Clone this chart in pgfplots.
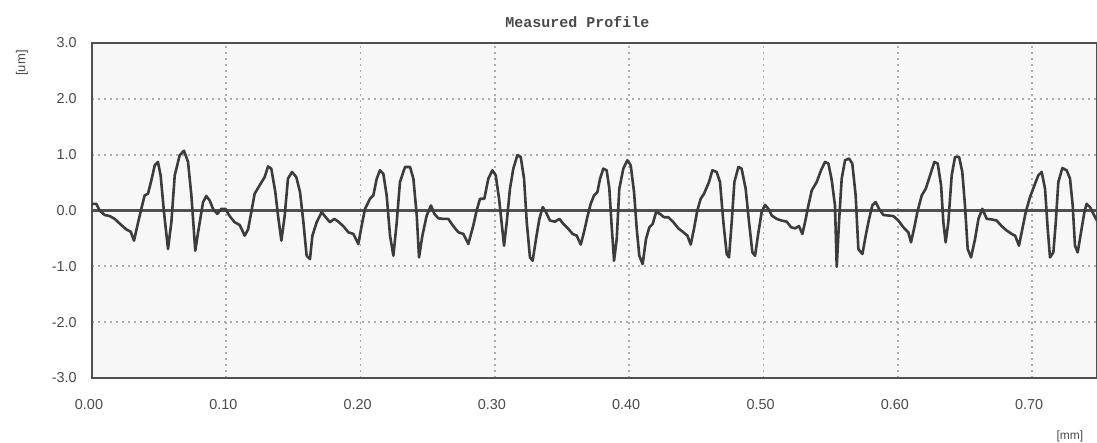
\documentclass[border=0pt]{standalone}
\usepackage{fontspec}
\setmainfont{Liberation Sans}
\newfontfamily\titlefont{Liberation Mono}
\usepackage{pgfplots}
\pgfplotsset{compat=1.18}
\definecolor{txt}{HTML}{4A4A4A}
\definecolor{curve}{HTML}{3C3C3C}
\definecolor{frame}{HTML}{505050}
\begin{document}
\begin{tikzpicture}
\path[use as bounding box] (-46pt,-32.5pt) rectangle (502.5pt,189pt);
\begin{axis}[
  at={(0,0)}, anchor=south west,
  scale only axis, width=502.5pt, height=167.5pt,
  xmin=0, xmax=0.7483, ymin=-3, ymax=3,
  xtick={0,0.1,0.2,0.3,0.4,0.5,0.6,0.7},
  ytick={-3,-2,-1,0,1,2,3},
  xticklabels={0.00,0.10,0.20,0.30,0.40,0.50,0.60,0.70},
  yticklabels={-3.0,-2.0,-1.0,0.0,1.0,2.0,3.0},
  major tick length=0pt,
  axis background/.style={fill=gray!6},
  axis line style={draw=frame, line width=0.9pt},
  grid=major,
  major grid style={draw=gray!65, line width=0.85pt, dash pattern=on 0.9pt off 2.1pt},
  extra y ticks={0},
  extra y tick labels={},
  extra y tick style={grid=major, major grid style={draw=frame, solid, line width=1.1pt}},
  ticklabel style={font=\fontsize{7.2}{8}\selectfont, text=txt, inner sep=0pt},
  xticklabel style={anchor=center, yshift=-13.5pt, xshift=-1.5pt},
  yticklabel style={anchor=east, xshift=-7.5pt},
  title={\titlefont\bfseries Measured Profile},
  title style={at={(rel axis cs:0.483,1)}, anchor=center, yshift=4.5pt, font=\fontsize{7.5}{8}\selectfont, text=txt},
  xlabel={[mm]},
  xlabel style={at={(rel axis cs:0.973,0)}, anchor=center, yshift=-29pt, font=\fontsize{6}{7}\selectfont, text=txt},
  ylabel={[um]},
  ylabel style={at={(rel axis cs:0,1)}, anchor=center, xshift=-10pt, yshift=35pt, font=\fontsize{6.5}{7}\selectfont, text=txt},
]
\addplot[color=curve, line width=1.3pt, line join=round] coordinates {
(0.0000,0.12)(0.0032,0.12)(0.0057,0.00)(0.0094,-0.08)(0.0132,-0.10)(0.0169,-0.15)
(0.0218,-0.26)(0.0256,-0.34)(0.0288,-0.38)(0.0313,-0.54)(0.0338,-0.27)(0.0367,0.03)
(0.0392,0.27)(0.0417,0.30)(0.0442,0.54)(0.0467,0.81)(0.0491,0.87)(0.0511,0.63)
(0.0536,-0.03)(0.0566,-0.69)(0.0591,-0.21)(0.0616,0.63)(0.0653,0.99)(0.0685,1.07)
(0.0715,0.87)(0.0740,0.27)(0.0769,-0.72)(0.0794,-0.33)(0.0827,0.15)(0.0851,0.26)
(0.0876,0.18)(0.0901,0.03)(0.0933,-0.06)(0.0963,0.03)(0.0993,0.03)(0.1025,-0.10)
(0.1062,-0.21)(0.1100,-0.26)(0.1137,-0.45)(0.1162,-0.34)(0.1186,-0.03)(0.1211,0.30)
(0.1248,0.45)(0.1286,0.60)(0.1311,0.79)(0.1335,0.75)(0.1365,0.33)(0.1385,-0.09)
(0.1410,-0.54)(0.1435,-0.09)(0.1459,0.57)(0.1489,0.69)(0.1521,0.60)
(0.1549,0.33)(0.1574,-0.21)(0.1598,-0.81)(0.1623,-0.87)(0.1641,-0.45)(0.1673,-0.21)
(0.1710,-0.03)(0.1740,-0.12)(0.1772,-0.21)(0.1804,-0.15)(0.1834,-0.20)(0.1871,-0.28)
(0.1909,-0.39)(0.1946,-0.42)(0.1983,-0.60)(0.2008,-0.27)(0.2033,0.03)(0.2070,0.21)
(0.2095,0.27)(0.2120,0.57)(0.2144,0.72)(0.2169,0.66)(0.2194,0.27)(0.2219,-0.45)
(0.2244,-0.81)(0.2269,-0.21)(0.2293,0.51)(0.2331,0.78)(0.2368,0.78)(0.2393,0.57)
(0.2418,-0.09)(0.2435,-0.84)(0.2460,-0.45)(0.2492,-0.09)(0.2524,0.09)(0.2549,-0.06)
(0.2579,-0.14)(0.2616,-0.15)(0.2653,-0.15)(0.2690,-0.28)(0.2728,-0.39)(0.2765,-0.42)
(0.2802,-0.60)(0.2839,-0.27)(0.2864,0.00)(0.2889,0.21)(0.2921,0.21)(0.2951,0.57)
(0.2981,0.72)(0.3006,0.63)(0.3031,0.21)
(0.3068,-0.63)(0.3088,-0.21)(0.3112,0.39)(0.3137,0.75)(0.3167,0.99)(0.3192,0.96)
(0.3217,0.57)(0.3237,-0.21)(0.3261,-0.84)(0.3281,-0.90)(0.3306,-0.51)(0.3331,-0.15)
(0.3356,0.06)(0.3380,-0.03)(0.3410,-0.18)(0.3447,-0.20)(0.3480,-0.15)(0.3510,-0.24)
(0.3547,-0.33)(0.3579,-0.42)(0.3609,-0.45)(0.3639,-0.61)(0.3663,-0.39)(0.3688,-0.12)
(0.3713,0.12)(0.3738,0.27)(0.3763,0.33)(0.3783,0.57)(0.3807,0.75)(0.3832,0.72)
(0.3852,0.39)(0.3869,-0.27)(0.3887,-0.90)(0.3907,-0.51)(0.3926,0.39)(0.3956,0.75)
(0.3986,0.90)(0.4011,0.81)(0.4036,0.33)(0.4056,-0.33)(0.4075,-0.81)(0.4100,-0.96)
(0.4125,-0.51)(0.4150,-0.30)(0.4175,-0.24)(0.4200,-0.03)(0.4229,-0.06)(0.4259,-0.12)
(0.4291,-0.12)(0.4329,-0.21)(0.4366,-0.32)(0.4403,-0.39)(0.4433,-0.45)(0.4458,-0.61)
(0.4482,-0.33)(0.4507,0.00)(0.4532,0.21)(0.4557,0.30)
(0.4594,0.51)(0.4619,0.72)(0.4651,0.69)(0.4676,0.51)(0.4701,-0.21)(0.4726,-0.78)
(0.4743,-0.84)(0.4763,-0.21)(0.4783,0.51)(0.4813,0.78)(0.4837,0.75)(0.4867,0.39)
(0.4892,-0.21)(0.4917,-0.75)(0.4937,-0.81)(0.4962,-0.39)(0.4986,-0.03)(0.5011,0.10)
(0.5036,0.03)(0.5061,-0.09)(0.5098,-0.15)(0.5135,-0.18)(0.5173,-0.20)(0.5205,-0.30)
(0.5235,-0.32)(0.5264,-0.28)(0.5289,-0.42)(0.5309,-0.21)(0.5334,0.09)(0.5359,0.36)
(0.5396,0.51)(0.5428,0.72)(0.5458,0.87)(0.5483,0.84)(0.5508,0.54)(0.5532,0.09)
(0.5545,-1.01)(0.5562,-0.21)(0.5582,0.57)(0.5607,0.90)(0.5637,0.93)(0.5661,0.84)
(0.5686,0.27)(0.5706,-0.69)(0.5736,-0.78)(0.5761,-0.45)(0.5786,-0.15)(0.5810,0.09)
(0.5835,0.15)(0.5860,0.03)(0.5892,-0.08)(0.5930,-0.09)(0.5967,-0.10)(0.6004,-0.18)
(0.6041,-0.30)
(0.6078,-0.39)(0.6098,-0.57)(0.6123,-0.30)(0.6148,0.00)(0.6178,0.27)(0.6208,0.39)
(0.6240,0.63)(0.6272,0.87)(0.6297,0.84)(0.6322,0.45)(0.6339,-0.21)(0.6356,-0.57)
(0.6376,-0.21)(0.6401,0.63)(0.6426,0.96)(0.6456,0.96)(0.6480,0.69)(0.6500,0.09)
(0.6520,-0.69)(0.6545,-0.84)(0.6575,-0.51)(0.6600,-0.15)(0.6629,0.03)(0.6662,-0.15)
(0.6699,-0.16)(0.6736,-0.18)(0.6773,-0.28)(0.6811,-0.36)(0.6848,-0.42)(0.6873,-0.45)
(0.6902,-0.63)(0.6927,-0.33)(0.6952,-0.03)(0.6984,0.24)(0.7017,0.45)(0.7046,0.63)
(0.7071,0.69)(0.7096,0.39)(0.7116,-0.33)(0.7133,-0.84)(0.7158,-0.75)(0.7176,-0.21)
(0.7195,0.51)(0.7225,0.76)(0.7257,0.72)(0.7282,0.57)(0.7302,0.09)(0.7319,-0.63)
(0.7339,-0.75)(0.7364,-0.39)(0.7389,-0.03)(0.7406,0.12)(0.7431,0.06)(0.7456,-0.06)
(0.7483,-0.18)
};
\end{axis}
\end{tikzpicture}
\end{document}
